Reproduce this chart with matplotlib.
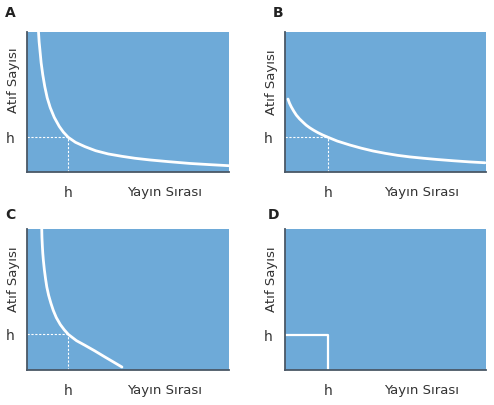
import matplotlib
matplotlib.use("Agg")
import matplotlib.pyplot as plt

# curve points (x: 0-10, y: 0-10)
a_x = [0.57, 0.60, 0.64, 0.70, 0.78, 0.88, 1.00, 1.15, 1.35, 1.60, 1.80, 2.04,
       2.40, 2.87, 3.40, 4.02, 4.70, 5.35, 6.09, 7.00, 8.07, 9.00, 10.0]
a_y = [10.0, 9.30, 8.71, 7.80, 6.95, 6.10, 5.30, 4.60, 3.90, 3.25, 2.85, 2.48,
       2.12, 1.81, 1.52, 1.29, 1.12, 0.98, 0.86, 0.74, 0.61, 0.53, 0.45]
a_h = (2.04, 2.48)

b_x = [0.15, 0.22, 0.31, 0.43, 0.56, 0.72, 0.90, 1.05, 1.23, 1.43, 1.64, 1.88,
       2.14, 2.60, 3.22, 3.80, 4.38, 5.00, 5.60, 6.20, 6.90, 7.60, 8.40, 9.20, 9.95]
b_y = [5.21, 4.93, 4.66, 4.36, 4.07, 3.80, 3.55, 3.35, 3.16, 2.98, 2.81, 2.64,
       2.48, 2.21, 1.93, 1.70, 1.50, 1.33, 1.19, 1.08, 0.98, 0.89, 0.80, 0.72, 0.66]
b_h = (2.14, 2.48)

c_x = [0.73, 0.74, 0.76, 0.78, 0.81, 0.86, 0.92, 0.98, 1.07, 1.18, 1.30, 1.45,
       1.65, 1.85, 2.05, 2.45, 2.87, 3.35, 3.86, 4.30, 4.70]
c_y = [10.0, 9.40, 8.80, 8.30, 7.78, 7.10, 6.45, 5.89, 5.30, 4.75, 4.23, 3.72,
       3.22, 2.84, 2.52, 2.08, 1.75, 1.36, 0.92, 0.55, 0.21]
c_h = (2.05, 2.52)

d_h = (2.14, 2.48)

letters = ['A', 'B', 'C', 'D']
ylab = 'Atıf Sayısı'
xlab = 'Yayın Sırası'

W, H = 494, 405
bg = '#6eaad8'
txt = '#333333'

fig = plt.figure(figsize=(W / 100, H / 100), dpi=100)

# axes boxes in pixels: left, top, width, height
boxes = [(27, 32, 202, 140), (285, 32, 201, 140),
         (27, 229, 202, 141), (285, 229, 201, 141)]
curves = [(a_x, a_y), (b_x, b_y), (c_x, c_y), None]
hs = [a_h, b_h, c_h, d_h]
letter_pos = [(10, 13), (278, 13), (10, 215), (273, 215)]
ylab_pos = [(13, 80), (271, 82), (13, 279), (271, 279)]

for i in range(4):
    l, t, w, hgt = boxes[i]
    ax = fig.add_axes([l / W, 1 - (t + hgt) / H, w / W, hgt / H])
    ax.set_facecolor(bg)
    ax.set_xlim(0, 10)
    ax.set_ylim(0, 10)
    for s in ['top', 'right']:
        ax.spines[s].set_visible(False)
    for s in ['left', 'bottom']:
        ax.spines[s].set_color('#4a5866')
        ax.spines[s].set_linewidth(1.3)
    hx, hy = hs[i]
    if curves[i] is not None:
        cx, cy = curves[i]
        ax.plot(cx, cy, color='white', lw=2, solid_capstyle='round',
                solid_joinstyle='round', clip_on=False)
        ax.plot([0, hx], [hy, hy], color='white', lw=0.8, ls=(0, (2, 1.5)))
        ax.plot([hx, hx], [0, hy], color='white', lw=0.8, ls=(0, (2, 1.5)))
    else:
        ax.plot([0, hx, hx], [hy, hy, 0], color='white', lw=1.6)
    ax.set_xticks([hx])
    ax.set_xticklabels(['h'])
    ax.set_yticks([hy])
    ax.set_yticklabels(['h'])
    ax.tick_params(length=0, labelsize=10, colors=txt)
    ax.tick_params(axis='x', pad=10)
    ax.tick_params(axis='y', pad=9)
    ax.text(0.68, -0.145, xlab, transform=ax.transAxes, ha='center', va='center',
            fontsize=9.5, color=txt)
    lx, ly = letter_pos[i]
    fig.text(lx / W, 1 - ly / H, letters[i], ha='center', va='center',
             fontsize=10, fontweight='bold', color='#222222')
    yx, yy = ylab_pos[i]
    fig.text(yx / W, 1 - yy / H, ylab, rotation=90, ha='center', va='center',
             fontsize=9.5, color=txt)

fig.savefig('out.png', dpi=100)
